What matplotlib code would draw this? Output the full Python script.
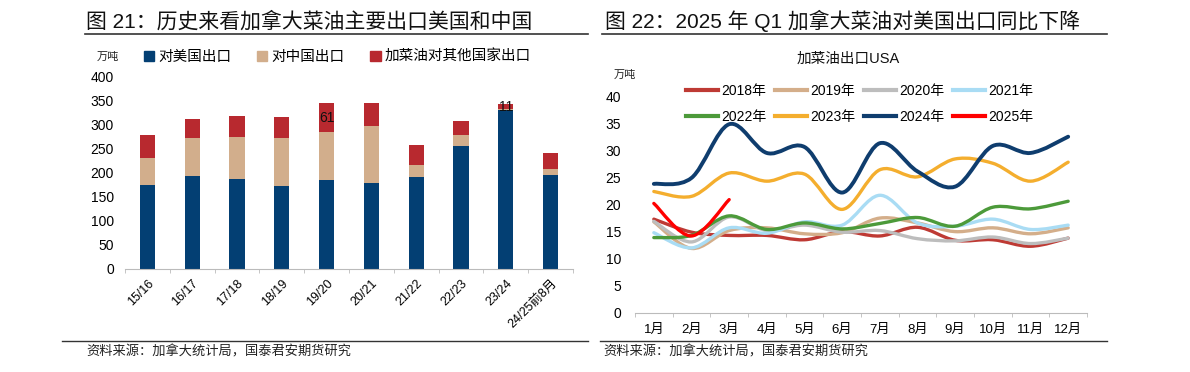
import matplotlib.pyplot as plt
import numpy as np
from matplotlib.patches import Patch, PathPatch
from matplotlib.lines import Line2D
from matplotlib.path import Path

plt.rcParams['font.family'] = ['Liberation Sans', 'Noto Sans CJK SC', 'DejaVu Sans']

# Left chart data (万吨)
seasons = ['15/16', '16/17', '17/18', '18/19', '19/20', '20/21', '21/22', '22/23', '23/24', '24/25前8月']
to_us = [175, 192, 186, 172, 184, 178, 190, 255, 330, 194]
to_china = [56, 79, 87, 99, 99, 118, 25, 22, 1, 13]
to_other = [46, 40, 44, 45, 61, 49, 42, 30, 11, 33]
labeled_other = {4: '61', 8: '11'}

# Right chart data: monthly exports to USA (万吨)
months = ['1月', '2月', '3月', '4月', '5月', '6月', '7月', '8月', '9月', '10月', '11月', '12月']
y2018 = [17.3, 14.9, 14.3, 14.3, 13.5, 15.0, 14.2, 15.8, 13.4, 13.5, 12.3, 13.8]
y2019 = [16.8, 11.9, 15.2, 15.7, 14.6, 14.8, 17.5, 16.6, 15.0, 15.7, 14.6, 15.7]
y2020 = [16.9, 13.1, 17.7, 15.2, 16.2, 14.9, 15.2, 13.7, 13.3, 14.0, 12.8, 13.8]
y2021 = [14.8, 12.0, 15.7, 14.7, 16.8, 16.2, 21.7, 16.6, 16.0, 17.3, 15.4, 16.2]
y2022 = [13.9, 14.3, 17.9, 15.4, 16.6, 15.5, 16.5, 17.6, 16.0, 19.5, 19.2, 20.6]
y2023 = [22.4, 21.5, 25.8, 24.3, 25.6, 19.1, 26.4, 25.1, 28.4, 27.6, 24.3, 27.8]
y2024 = [23.8, 24.9, 34.8, 29.5, 30.6, 22.2, 31.3, 26.1, 23.3, 30.8, 29.5, 32.5]
y2025 = [20.2, 14.2, 20.9]

year_labels = ['2018年', '2019年', '2020年', '2021年', '2022年', '2023年', '2024年', '2025年']
year_series = [y2018, y2019, y2020, y2021, y2022, y2023, y2024, y2025]
year_colors = ['#BE3A34', '#D4AE8A', '#BDBDBD', '#A9DCF4', '#4C9A3A', '#F4AE2E', '#0F3D6E', '#FF0000']

W, H = 1190, 372
fig = plt.figure(figsize=(W / 100, H / 100), dpi=100)


def fx(px):
    return px / W


def fy(py):
    return 1 - py / H


def smooth_path(xs, ys):
    # Catmull-Rom style smoothing drawn as cubic Bezier segments
    pts = np.column_stack([xs, ys]).astype(float)
    n = len(pts)
    verts = [pts[0]]
    codes = [Path.MOVETO]
    for i in range(n - 1):
        p0 = pts[max(i - 1, 0)]
        p1 = pts[i]
        p2 = pts[i + 1]
        p3 = pts[min(i + 2, n - 1)]
        c1 = p1 + (p2 - p0) / 6
        c2 = p2 - (p3 - p1) / 6
        verts += [c1, c2, p2]
        codes += [Path.CURVE4] * 3
    return Path(verts, codes)


# ---------- titles, underlines, sources ----------
fig.text(fx(86), fy(21), '图 21：历史来看加拿大菜油主要出口美国和中国', fontsize=15, va='center', color='#111111')
fig.text(fx(605), fy(21), '图 22：2025 年 Q1 加拿大菜油对美国出口同比下降', fontsize=15, va='center', color='#111111')
fig.add_artist(Line2D([fx(85), fx(588)], [fy(34), fy(34)], color='#333333', lw=1.2))
fig.add_artist(Line2D([fx(602), fx(1107)], [fy(34), fy(34)], color='#333333', lw=1.2))
fig.add_artist(Line2D([fx(62), fx(588)], [fy(341), fy(341)], color='#333333', lw=1.0))
fig.add_artist(Line2D([fx(600), fx(1107)], [fy(341), fy(341)], color='#333333', lw=1.0))
fig.text(fx(86), fy(352), '资料来源：加拿大统计局，国泰君安期货研究', fontsize=9.5, va='center', color='#222222')
fig.text(fx(603), fy(352), '资料来源：加拿大统计局，国泰君安期货研究', fontsize=9.5, va='center', color='#222222')

# ---------- left: stacked bars ----------
ax1 = fig.add_axes([fx(125), fy(269), fx(573 - 125), (269 - 76) / H])
x = np.arange(len(seasons))
bw = 0.34
c_us, c_cn, c_ot = '#033F73', '#D2AE8C', '#B8292F'
ax1.bar(x, to_us, bw, color=c_us)
ax1.bar(x, to_china, bw, bottom=to_us, color=c_cn)
base = np.array(to_us) + np.array(to_china)
ax1.bar(x, to_other, bw, bottom=base, color=c_ot)
for i, lab in labeled_other.items():
    ax1.text(x[i], base[i] + to_other[i] / 2, lab, ha='center', va='center', fontsize=10, color='#111111')

ax1.set_xlim(-0.5, len(seasons) - 0.5)
ax1.set_ylim(0, 400)
ax1.set_yticks(np.arange(0, 401, 50))
ax1.set_xticks(x)
ax1.set_xticklabels(seasons, rotation=45, ha='right', rotation_mode='anchor', fontsize=9)
ax1.set_xticks(np.arange(-0.5, len(seasons), 1), minor=True)
ax1.tick_params(axis='x', which='major', length=0, pad=6)
ax1.tick_params(axis='x', which='minor', length=3, color='#BBBBBB', direction='out')
ax1.tick_params(axis='y', length=0, labelsize=10, pad=8)
for s in ['top', 'right', 'left']:
    ax1.spines[s].set_visible(False)
ax1.spines['bottom'].set_color('#BBBBBB')
fig.text(fx(97), fy(57), '万吨', fontsize=8, va='center', color='#222222')
fig.legend(handles=[Patch(color=c_us, label='对美国出口'),
                    Patch(color=c_cn, label='对中国出口'),
                    Patch(color=c_ot, label='加菜油对其他国家出口')],
           loc='center left', bbox_to_anchor=(fx(144), fy(57)), ncol=3, frameon=False,
           fontsize=10.5, handlelength=0.7, handleheight=0.7, handletextpad=0.25,
           columnspacing=1.8, borderpad=0, borderaxespad=0)

# ---------- right: smoothed lines ----------
ax2 = fig.add_axes([fx(635), fy(313), fx(1087 - 635), (313 - 96) / H])
mx = np.arange(len(months))
handles = []
for lab, ys, col in zip(year_labels, year_series, year_colors):
    lw = 2.8 if lab == '2024年' else 2.4
    path = smooth_path(mx[:len(ys)], ys)
    ax2.add_patch(PathPatch(path, facecolor='none', edgecolor=col, lw=lw, capstyle='round', joinstyle='round'))
    handles.append(Line2D([], [], color=col, lw=3, label=lab))
ax2.set_xlim(-0.5, len(months) - 0.5)
ax2.set_ylim(0, 40)
ax2.set_yticks(np.arange(0, 41, 5))
ax2.set_xticks(mx)
ax2.set_xticklabels(months, fontsize=9.5)
ax2.set_xticks(np.arange(-0.5, len(months), 1), minor=True)
ax2.tick_params(axis='x', which='major', length=0, pad=8)
ax2.tick_params(axis='x', which='minor', length=3, color='#BBBBBB', direction='out')
ax2.tick_params(axis='y', length=0, labelsize=10, pad=10)
for s in ['top', 'right', 'left']:
    ax2.spines[s].set_visible(False)
ax2.spines['bottom'].set_color('#BBBBBB')
fig.text(fx(848), fy(59), '加菜油出口USA', fontsize=10.5, ha='center', va='center', color='#111111')
fig.text(fx(614), fy(75), '万吨', fontsize=8, va='center', color='#222222')
# legend fills column by column, so interleave to get two rows of four
order = [0, 4, 1, 5, 2, 6, 3, 7]
ax2.legend(handles=[handles[k] for k in order], loc='upper left', bbox_to_anchor=(fx(686), fy(84)),
           bbox_transform=fig.transFigure, ncol=4, frameon=False, fontsize=10,
           handlelength=2.3, handletextpad=0.25, columnspacing=0.6, labelspacing=0.85,
           borderpad=0, borderaxespad=0)

fig.savefig('out.png', dpi=100)
